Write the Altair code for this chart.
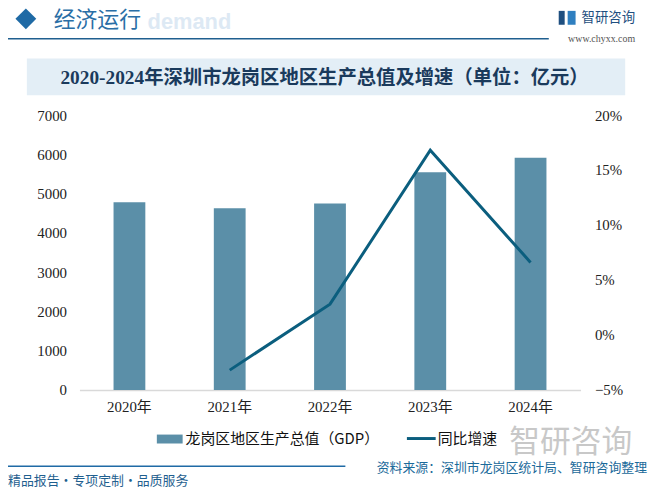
import altair as alt
import pandas as pd

# ---- data ----
years = ["2020年", "2021年", "2022年", "2023年", "2024年"]
gdp = [4778, 4625, 4750, 5545, 5913]
growth_years = ["2021年", "2022年", "2023年", "2024年"]
growth = [-0.032, 0.028, 0.168, 0.066]

bar_name = "龙岗区地区生产总值（GDP）"
line_name = "同比增速"
title_text = "2020-2024年深圳市龙岗区地区生产总值及增速（单位：亿元）"

BAR_C = "#5b8fa8"
LINE_C = "#0b5e7e"
NUM_FONT = "Liberation Serif, Noto Sans CJK SC"
CJK_FONT = "Noto Sans CJK SC"

# plot area origin in page coords
OX, OY = 80, 114
W, H = 505, 277

bars_df = pd.DataFrame({"year": years, "gdp": gdp})
line_df = pd.DataFrame({"year": growth_years, "growth": growth})
one = pd.DataFrame({"a": [0]})

xscale = alt.Scale(domain=years, paddingInner=0.683, paddingOuter=0.34)

bars = alt.Chart(bars_df).mark_bar(color=BAR_C).encode(
    x=alt.X("year:N", scale=xscale, sort=years,
            axis=alt.Axis(title=None, labelAngle=0, labelFont=NUM_FONT, labelFontSize=15,
                          labelColor="#222", labelPadding=10, ticks=False,
                          domainColor="#d9d9d9", domainWidth=1.5, grid=False)),
    y=alt.Y("gdp:Q", scale=alt.Scale(domain=[0, 7000], nice=False),
            axis=alt.Axis(title=None, values=list(range(0, 7001, 1000)), orient="left", format="d",
                          labelFont=NUM_FONT, labelFontSize=15, labelColor="#222",
                          labelPadding=13, ticks=False, domain=False, grid=False)),
)

line = alt.Chart(line_df).mark_line(color=LINE_C, strokeWidth=3).encode(
    x=alt.X("year:N", scale=xscale, sort=years),
    y=alt.Y("growth:Q", scale=alt.Scale(domain=[-0.05, 0.20], nice=False),
            axis=alt.Axis(title=None, orient="right", format=".0%",
                          values=[-0.05, 0, 0.05, 0.10, 0.15, 0.20],
                          labelFont=NUM_FONT, labelFontSize=15, labelColor="#222",
                          labelPadding=14, ticks=False, domain=False, grid=False)),
)


def px(X):
    return alt.value(X - OX)


def py(Y):
    return alt.value(Y - OY)


def text(t, X, Y, size, color, font=CJK_FONT, align="left", weight="normal"):
    return alt.Chart(one).mark_text(text=t, align=align, baseline="middle", font=font,
                                    fontSize=size, color=color, fontWeight=weight).encode(
        x=px(X), y=py(Y))


def rect(X1, X2, Y1, Y2, color):
    return alt.Chart(one).mark_rect(color=color).encode(x=px(X1), x2=px(X2), y=py(Y1), y2=py(Y2))


def hline(X1, X2, Y, color, w=1.5):
    return alt.Chart(one).mark_rule(color=color, strokeWidth=w).encode(x=px(X1), x2=px(X2), y=py(Y))


deco = [
    # header
    text("demand", 233, 20, 22, "#dde9f4", font="Liberation Sans", align="right", weight="bold"),
    alt.Chart(one).mark_point(shape="diamond", filled=True, size=440, color="#1f6aa5", opacity=1).encode(
        x=px(26), y=py(17)),
    text("经济运行", 54, 18, 22, "#2a6ea6"),
    hline(8, 553, 37, "#1f5f8f", 1.5),
    rect(563, 569, 9, 23, "#1f4f80"),
    rect(572, 580, 9, 23, "#2f7fc0"),
    text("智研咨询", 586, 16, 13.5, "#1f4f80"),
    text("www.chyxx.com", 640, 37, 10, "#555555", font="Liberation Serif", align="right"),
    # title box
    rect(27, 630, 57, 94, "#e3eef6"),
    text(title_text, 327, 77, 19.5, "#1a3a5c", font=NUM_FONT, align="center", weight="bold"),
    # legend
    rect(158, 184, 436, 445, BAR_C),
    text(bar_name, 187, 441, 15, "#111111"),
    hline(410, 439, 440, LINE_C, 3),
    text(line_name, 441, 441, 15, "#111111"),
    text("智研咨询", 575, 445, 31, "#c8c8c8", align="center"),
    # footer
    hline(8, 348, 468, "#1f6aa5", 1.5),
    text("精品报告・专项定制・品质服务", 8, 483, 13, "#1f5f8f"),
    text("资料来源：深圳市龙岗区统计局、智研咨询整理", 652, 470, 13, "#1b6a9a", align="right"),
]

chart = alt.layer(*deco, bars, line).resolve_scale(y="independent").properties(
    width=W, height=H,
    autosize=alt.AutoSizeParams(type="none"),
    padding={"left": OX - 8, "top": OY - 8, "right": 651 - (OX + W) + 5, "bottom": 494 - (OY + H)},
    background="white",
).configure_view(stroke=None)

chart.save("out.html", embed_options={"renderer": "svg", "actions": False})
